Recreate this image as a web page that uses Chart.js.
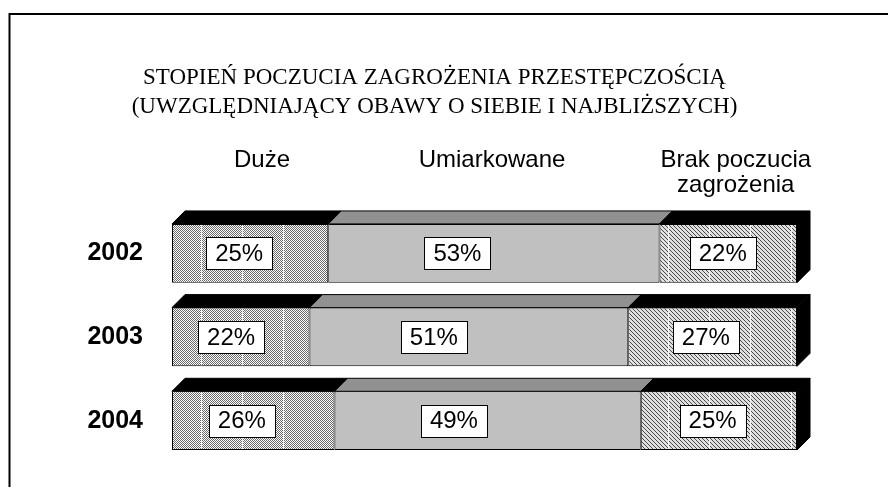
<!DOCTYPE html>
<html>
<head>
<meta charset="utf-8">
<script src="https://cdn.jsdelivr.net/npm/chart.js@4.4.1/dist/chart.umd.min.js"></script>
<style>
  html, body { margin: 0; padding: 0; background: #fff; }
  canvas { display: block; }
</style>
</head>
<body>
<canvas id="chart" width="888" height="487"></canvas>
<script>
  // dane
  const years = ['2002', '2003', '2004'];
  const seriesNames = ['Duże', 'Umiarkowane', 'Brak poczucia zagrożenia'];
  const duze = [25, 22, 26];
  const umiarkowane = [53, 51, 49];
  const brak = [22, 27, 25];
  const titleLines = [
    'STOPIEŃ POCZUCIA ZAGROŻENIA PRZESTĘPCZOŚCIĄ',
    '(UWZGLĘDNIAJĄCY OBAWY O SIEBIE I NAJBLIŻSZYCH)'
  ];
  const headerLines = [['Duże'], ['Umiarkowane'], ['Brak poczucia', 'zagrożenia']];

  // wygląd
  const SANS = '"Liberation Sans", Arial, sans-serif';
  const SERIF = '"Liberation Serif", "Times New Roman", serif';
  const DEPTH = 13;
  const TOP_COLORS = ['#000000', '#919191', '#000000'];
  const HEADER_AT = [14.4, 51.2, 90.2];   // pozycja nagłówków na osi x (0-100)
  const HEADER_BASE = 167;
  const LABEL_POS = [0.43, 0.39, 0.46];   // położenie etykiety w segmencie
  const GRID_AT = [4.64, 11.2, 17.76, 79.36, 85.92, 92.48, 99.04]; // białe linie siatki

  function makeChecker() {
    const c = document.createElement('canvas');
    c.width = 2; c.height = 2;
    const g = c.getContext('2d');
    g.fillStyle = '#ffffff'; g.fillRect(0, 0, 2, 2);
    g.fillStyle = '#6a6a6a'; g.fillRect(0, 0, 1, 1); g.fillRect(1, 1, 1, 1);
    return g.createPattern(c, 'repeat');
  }

  function makeHatch() {
    const c = document.createElement('canvas');
    c.width = 4; c.height = 4;
    const g = c.getContext('2d');
    g.fillStyle = '#e0e0e0'; g.fillRect(0, 0, 4, 4);
    g.fillStyle = '#4a4a4a';
    for (let i = 0; i < 4; i++) g.fillRect(i, i, 1, 1);
    return g.createPattern(c, 'repeat');
  }

  const ctx0 = document.getElementById('chart').getContext('2d');
  const fills = [makeChecker(), '#c0c0c0', makeHatch()];

  // ramka
  const framePlugin = {
    id: 'frame',
    beforeDraw(chart) {
      const c = chart.ctx;
      c.save();
      c.fillStyle = '#fff';
      c.fillRect(0, 0, chart.width, chart.height);
      c.strokeStyle = '#000';
      c.lineWidth = 2;
      c.beginPath();
      c.moveTo(9.5, chart.height);
      c.lineTo(9.5, 14);
      c.lineTo(chart.width, 14);
      c.stroke();
      c.restore();
    }
  };

  // efekt 3D, etykiety i nagłówki
  const barsPlugin = {
    id: 'bars3d',
    afterDatasetsDraw(chart) {
      const c = chart.ctx;
      const xs = chart.scales.x;
      const metas = chart.data.datasets.map((d, i) => chart.getDatasetMeta(i));
      c.save();
      c.lineWidth = 1;
      c.strokeStyle = '#000';

      years.forEach((y, i) => {
        metas.forEach((meta, d) => {
          const el = meta.data[i];
          const p = el.getProps(['x', 'y', 'base', 'height'], true);
          const left = Math.min(p.base, p.x);
          const right = Math.max(p.base, p.x);
          const top = p.y - p.height / 2;
          const bottom = p.y + p.height / 2;

          // białe linie siatki na segmentach z deseniem
          if (d !== 1) {
            c.save();
            c.beginPath();
            c.rect(left + 1, top + 1, right - left - 2, bottom - top - 2);
            c.clip();
            c.strokeStyle = 'rgba(255,255,255,0.85)';
            GRID_AT.forEach(g => {
              const gx = Math.round(xs.getPixelForValue(g)) + 0.5;
              c.beginPath();
              c.moveTo(gx, top);
              c.lineTo(gx, bottom);
              c.stroke();
            });
            c.restore();
          }

          c.beginPath();
          c.moveTo(left, top);
          c.lineTo(left + DEPTH, top - DEPTH);
          c.lineTo(right + DEPTH, top - DEPTH);
          c.lineTo(right, top);
          c.closePath();
          c.fillStyle = TOP_COLORS[d];
          c.fill();
          c.stroke();

          if (d === metas.length - 1) {
            c.beginPath();
            c.moveTo(right, top);
            c.lineTo(right + DEPTH, top - DEPTH);
            c.lineTo(right + DEPTH, bottom - DEPTH);
            c.lineTo(right, bottom);
            c.closePath();
            c.fillStyle = '#000';
            c.fill();
            c.stroke();
          }

          // etykieta
          const val = chart.data.datasets[d].data[i];
          const txt = val + '%';
          c.font = '24px ' + SANS;
          const w = c.measureText(txt).width + 18;
          const h = 32;
          const cx = left + (right - left) * LABEL_POS[d];
          const bx = Math.round(cx - w / 2) + 0.5;
          const by = Math.round(p.y - h / 2) + 0.5;
          c.fillStyle = '#fff';
          c.fillRect(bx, by, Math.round(w), h);
          c.strokeRect(bx, by, Math.round(w), h);
          c.fillStyle = '#000';
          c.textAlign = 'center';
          c.textBaseline = 'middle';
          c.fillText(txt, cx, p.y + 1);
        });
      });

      // nagłówki kolumn
      c.font = '24px ' + SANS;
      c.fillStyle = '#000';
      c.textAlign = 'center';
      c.textBaseline = 'alphabetic';
      headerLines.forEach((lines, d) => {
        const hx = xs.getPixelForValue(HEADER_AT[d]);
        lines.forEach((ln, k) => c.fillText(ln, hx, HEADER_BASE + k * 25));
      });
      c.restore();
    }
  };

  const chart = new Chart(ctx0, {
    type: 'bar',
    data: {
      labels: years,
      datasets: [duze, umiarkowane, brak].map((vals, d) => ({
        label: seriesNames[d],
        data: vals,
        backgroundColor: fills[d],
        borderColor: '#000',
        borderWidth: 1,
        borderSkipped: false,
        categoryPercentage: 1,
        barPercentage: 0.702
      }))
    },
    options: {
      indexAxis: 'y',
      responsive: false,
      animation: false,
      events: [],
      layout: { padding: { left: 72, right: 91, top: 0, bottom: 24.5 } },
      scales: {
        x: {
          stacked: true, min: 0, max: 100,
          display: false
        },
        y: {
          stacked: true,
          grid: { display: false, drawTicks: false },
          border: { display: false },
          ticks: {
            color: '#000',
            padding: 29,
            font: { family: SANS, size: 25, weight: 'bold' }
          },
          afterFit(axis) {
            axis.width = 100;
            axis.paddingTop = 0;
            axis.paddingBottom = 0;
          }
        }
      },
      plugins: {
        legend: { display: false },
        tooltip: { enabled: false },
        title: {
          display: true,
          text: titleLines,
          color: '#000',
          font: { family: SERIF, size: 23, weight: 'normal', lineHeight: 1.26 },
          padding: { top: 63.5, bottom: 90 }
        }
      }
    },
    plugins: [framePlugin, barsPlugin]
  });
</script>
</body>
</html>
